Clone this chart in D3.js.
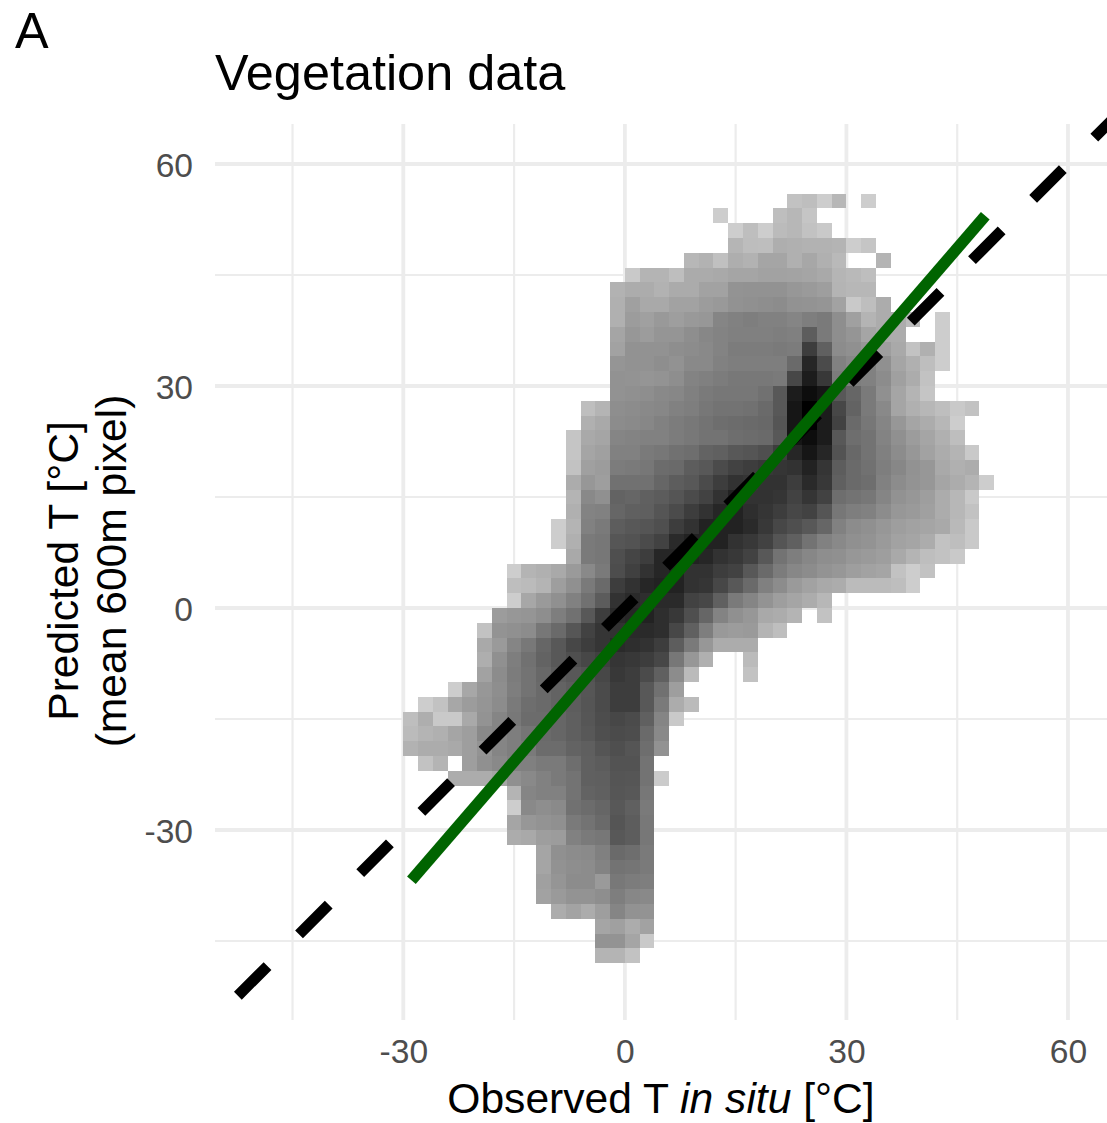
<!DOCTYPE html>
<html><head><meta charset="utf-8">
<script src="https://cdn.jsdelivr.net/npm/d3@7"></script>
<style>html,body{margin:0;padding:0;background:#fff}svg{display:block}text{font-family:"Liberation Sans",Arial,sans-serif}</style>
</head><body><div id="chart"></div>
<script>
const tag = "A";
const title = "Vegetation data";
const xTickValues = [-30, 0, 30, 60];
const yTickValues = [-30, 0, 30, 60];
const minorBreaks = [-45, -15, 15, 45];
const binSize = 2;
const identityX = [-52.4, 66];
const fitX = [-28.9, 48.8];
const fitY = [-36.8, 53];
const densityMax = 210;
const rowY = [54,52,50,48,46,44,42,40,38,36,34,32,30,28,26,24,22,20,18,16,14,12,10,8,6,4,2,0,-2,-4,-6,-8,-10,-12,-14,-16,-18,-20,-22,-24,-26,-28,-30,-32,-34,-36,-38,-40,-42,-44,-46,-48];
const rowStartX = [22,12,14,14,8,0,-2,-2,-2,-2,-2,-2,-2,-2,-6,-6,-8,-8,-8,-8,-8,-8,-10,-10,-8,-16,-16,-16,-18,-20,-20,-20,-20,-24,-28,-30,-30,-30,-28,-24,-16,-16,-16,-16,-12,-12,-12,-12,-10,-4,-4,-4];
const rowDensity = [
[18,22,6,30,null,6],
[6,null,null,null,22,30,14],
[6,22,6,26,30,18,10],
[32,24,22,40,38,36,36,34,6,14],
[30,36,20,40,36,50,50,38,48,38,28,null,null,34],
[10,34,34,22,44,44,46,50,50,54,54,52,50,46,32,28,22],
[36,42,42,36,44,44,54,54,70,72,72,72,66,62,58,34,30,30],
[38,56,46,46,54,54,60,64,72,74,76,78,72,70,68,54,10,22,42],
[38,60,56,64,58,64,66,86,90,94,90,90,86,94,98,76,56,34,42,42,26,null,6],
[50,66,60,68,68,76,84,88,92,92,92,94,92,126,98,76,68,50,44,42,null,null,6],
[54,72,72,72,76,78,82,88,96,96,96,98,96,154,122,78,74,66,58,46,18,38,6],
[68,72,72,76,72,82,82,90,94,94,94,94,114,174,142,90,82,90,74,50,38,22,6],
[72,70,68,70,76,88,92,96,100,100,100,98,146,182,158,96,94,90,78,56,42,18],
[72,74,76,82,84,92,98,102,102,102,108,130,182,204,190,130,118,98,74,50,34,14],
[22,34,76,78,82,84,90,94,102,106,106,108,114,130,190,206,182,146,120,98,82,50,38,30,22,10,18],
[38,46,78,80,84,90,96,100,106,110,112,114,116,134,190,206,182,150,114,102,86,66,50,42,30,6],
[14,46,50,86,88,90,90,96,100,106,106,110,112,114,130,190,202,182,130,110,106,88,74,60,50,38,22],
[14,50,56,90,90,98,102,108,110,120,122,130,134,138,154,176,190,174,136,116,106,92,78,66,54,42,34,10],
[18,56,60,96,98,102,112,114,126,130,142,150,154,158,162,166,178,162,126,114,108,94,84,72,66,46,38,42],
[42,66,58,108,108,108,118,126,130,142,154,166,162,166,166,154,170,160,122,114,110,90,78,70,66,50,42,34,6],
[34,82,74,120,118,122,128,134,142,150,166,180,166,166,162,150,162,150,110,106,102,86,72,66,58,42,30,10],
[38,88,90,118,122,124,134,142,154,166,174,180,168,162,154,146,150,134,102,94,90,78,66,62,56,42,30,18],
[6,34,90,98,126,130,134,138,154,166,178,180,178,172,158,146,138,130,118,90,78,74,66,58,54,50,46,28,10],
[6,38,98,102,132,136,142,150,170,180,180,178,166,158,150,134,122,106,90,82,74,70,62,54,50,42,18,22,10],
[46,98,102,138,148,154,176,176,180,176,166,158,150,130,106,94,84,76,74,66,62,58,46,34,22,18,10],
[6,34,38,46,62,82,98,140,152,166,176,180,166,166,154,150,130,114,96,84,78,70,66,58,54,50,18,6,18],
[22,26,34,58,74,98,114,156,166,176,180,180,166,162,146,130,114,92,78,62,54,46,42,26,26,26,22,6],
[6,48,62,74,90,108,128,166,172,168,172,172,150,146,122,98,86,70,58,50,42,30],
[60,66,68,76,94,108,130,156,172,174,178,168,158,138,118,88,74,66,46,42,34,null,18],
[18,70,74,78,102,114,132,150,162,166,170,172,168,146,122,94,64,60,62,34,22],
[46,62,86,100,118,130,146,156,162,170,168,166,156,126,98,66,42,42,42],
[40,74,94,108,120,130,138,146,152,162,160,154,146,102,66,38,null,null,26],
[54,78,96,106,116,126,130,136,146,158,156,142,122,78,26,null,null,null,18],
[6,48,66,76,94,106,114,120,126,132,142,154,154,130,108,58],
[6,18,48,60,68,78,98,110,114,120,126,134,142,154,154,130,98,42,26],
[22,40,10,10,46,70,86,100,112,112,118,124,132,140,146,142,122,86,10],
[26,34,38,50,58,82,86,94,104,114,118,124,130,138,142,140,114,82],
[36,42,42,46,58,70,86,94,98,112,112,120,124,134,138,134,110,72],
[18,34,null,58,74,82,90,92,98,98,110,122,128,136,136,106],
[42,42,42,50,74,82,90,98,106,122,124,134,132,106,8],
[34,86,90,90,106,120,122,132,130,102],
[6,82,76,80,108,112,118,130,122,98],
[50,66,70,74,98,106,114,134,126,100],
[42,46,58,60,90,98,102,130,126,102],
[50,74,78,80,92,114,110,98],
[50,72,76,78,88,106,104,98],
[56,68,78,78,62,100,96,94],
[54,62,70,70,76,94,84,82],
[42,52,42,58,86,72,70],
[50,56,42,54],
[70,70,50,10],
[34,34,18]
];

const W = 1107, H = 1123;
const panel = {left: 215, right: 1107, top: 124, bottom: 1020};
const x = d3.scaleLinear().domain([-30, 60]).range([403.3, 1068]);
const y = d3.scaleLinear().domain([-30, 60]).range([830, 164]);
const fill = d3.scaleLinear().domain([0, densityMax / 2, densityMax]).range(["#d2d2d2", "#747474", "#000000"]);

const svg = d3.select("#chart").append("svg").attr("width", W).attr("height", H).attr("viewBox", `0 0 ${W} ${H}`);
const gridColor = "#ececec";
svg.append("defs").append("filter").attr("id", "soft").attr("x", "-5%").attr("y", "-5%").attr("width", "110%").attr("height", "110%")
  .append("feGaussianBlur").attr("stdDeviation", 0.6);

const grid = svg.append("g");
grid.selectAll(".vmin").data(minorBreaks).join("line").attr("x1", x).attr("x2", x).attr("y1", panel.top).attr("y2", panel.bottom).attr("stroke", gridColor).attr("stroke-width", 2.2);
grid.selectAll(".hmin").data(minorBreaks).join("line").attr("y1", y).attr("y2", y).attr("x1", panel.left).attr("x2", panel.right).attr("stroke", gridColor).attr("stroke-width", 2.2);
grid.selectAll(".vmaj").data(xTickValues).join("line").attr("x1", x).attr("x2", x).attr("y1", panel.top).attr("y2", panel.bottom).attr("stroke", gridColor).attr("stroke-width", 3.8);
grid.selectAll(".hmaj").data(yTickValues).join("line").attr("y1", y).attr("y2", y).attr("x1", panel.left).attr("x2", panel.right).attr("stroke", gridColor).attr("stroke-width", 3.8);

const cells = rowDensity.flatMap((vals, i) => vals.map((v, j) => ({x0: rowStartX[i] + j * binSize, y0: rowY[i], v})).filter(c => c.v !== null));
svg.append("g").attr("filter", "url(#soft)").attr("shape-rendering", "crispEdges").selectAll("rect").data(cells).join("rect")
  .attr("x", d => x(d.x0)).attr("width", d => x(d.x0 + binSize) - x(d.x0))
  .attr("y", d => y(d.y0 + binSize)).attr("height", d => y(d.y0) - y(d.y0 + binSize))
  .attr("fill", d => fill(d.v));

const line = d3.line().x(d => x(d[0])).y(d => y(d[1]));
svg.append("path").attr("d", line(identityX.map(v => [v, v]))).attr("fill", "none").attr("stroke", "#000").attr("stroke-width", 11).attr("stroke-dasharray", "42 44.6");
svg.append("path").attr("d", line(fitX.map((v, i) => [v, fitY[i]]))).attr("fill", "none").attr("stroke", "#006400").attr("stroke-width", 11.5);

const xAxis = svg.append("g").attr("transform", `translate(0,${panel.bottom})`).call(d3.axisBottom(x).tickValues(xTickValues).tickSize(0).tickPadding(19).tickFormat(String));
const yAxis = svg.append("g").attr("transform", `translate(${panel.left},2)`).call(d3.axisLeft(y).tickValues(yTickValues).tickSize(0).tickPadding(22).tickFormat(String));
[xAxis, yAxis].forEach(a => { a.select(".domain").remove(); a.selectAll("text").attr("fill", "#4d4d4d").attr("font-size", 33.6).attr("font-family", '"Liberation Sans",Arial,sans-serif'); });

svg.append("text").attr("x", 15).attr("y", 48).attr("font-size", 50.4).attr("fill", "#000").text(tag);
svg.append("text").attr("x", 215).attr("y", 90).attr("font-size", 50.4).attr("fill", "#000").text(title);

const xt = svg.append("text").attr("x", 661).attr("y", 1113).attr("text-anchor", "middle").attr("font-size", 42.6).attr("fill", "#000");
xt.append("tspan").text("Observed T ");
xt.append("tspan").attr("font-style", "italic").text("in situ");
xt.append("tspan").text(" [°C]");

const yt = svg.append("text").attr("transform", "translate(78,571) rotate(-90)").attr("text-anchor", "middle").attr("font-size", 42.6).attr("fill", "#000");
yt.append("tspan").attr("x", 0).attr("dy", 0).text("Predicted T [°C]");
yt.append("tspan").attr("x", 0).attr("dy", 48).text("(mean 600m pixel)");
</script></body></html>
